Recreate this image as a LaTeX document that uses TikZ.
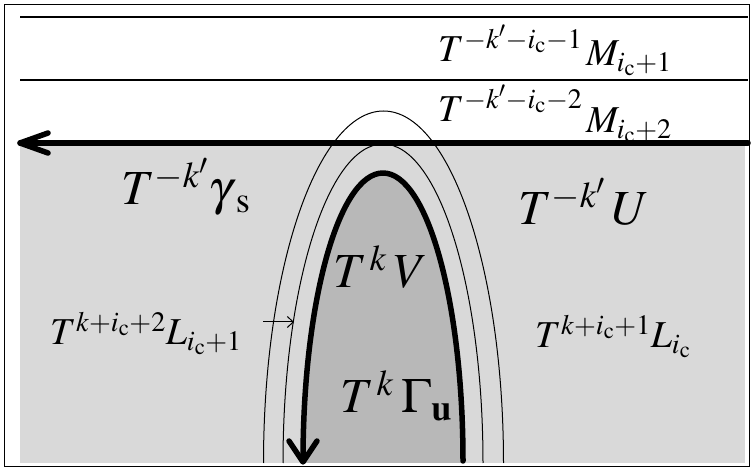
\documentclass[tikz,border=0pt]{standalone}
\usepackage{mathptmx}
\usetikzlibrary{arrows.meta}
\definecolor{lightshade}{gray}{0.85}
\definecolor{darkshade}{gray}{0.72}
\begin{document}
\begin{tikzpicture}[x=1pt,y=-1pt,
  thinline/.style={line width=1.2pt},
  thinarc/.style={line width=1pt},
  thickline/.style={line width=5.5pt, line cap=round, line join=round},
  midlab/.style={anchor=base west, inner sep=0pt, font=\fontsize{38}{42}\selectfont},
  biglab/.style={anchor=base west, inner sep=0pt, font=\fontsize{49}{53}\selectfont},
]
\useasboundingbox (0,0) rectangle (753,470);
\fill[white] (0,0) rectangle (753,470);
% shaded regions
\fill[lightshade] (20,146) rectangle (745,463);
\fill[darkshade] (463,463) arc[start angle=0, end angle=-180, x radius=80, y radius=290] -- cycle;
% frame
\draw[line width=0.8pt] (4,4) rectangle (749,466);
% horizontal lines
\coordinate (a1) at (20,17);  \coordinate (b1) at (748,17);
\coordinate (a2) at (20,80);  \coordinate (b2) at (748,80);
\draw[thinline] (a1) -- (b1);
\draw[thinline] (a2) -- (b2);
% thin arches
\draw[thinarc] (503.5,463) arc[start angle=0, end angle=-180, x radius=120, y radius=352];
\draw[thinarc] (483,463) arc[start angle=0, end angle=-180, x radius=100, y radius=319];
% thick arch with arrow
\draw[thickline] (463,461) arc[start angle=0, end angle=-180, x radius=80, y radius=288];
\coordinate (vt) at (303,462);
\coordinate (vl) at (289,441);
\coordinate (vr) at (317,441);
\draw[thickline] (vl) -- (vt) -- (vr);
% thick horizontal arrow
\coordinate (hr) at (748,143);
\coordinate (hl) at (20,143);
\coordinate (hu) at (48,133);
\coordinate (hd) at (48,153);
\draw[thickline] (hr) -- (hl);
\draw[thickline] (hu) -- (hl) -- (hd);
% small arrow
\coordinate (sa) at (263,322);
\coordinate (sb) at (294,322);
\draw[line width=1pt, -{Straight Barb[length=6pt,width=11pt]}] (sa) -- (sb);
% labels
\node[midlab] (m1t) at (438,62) {$T^{-k'-i_{\mathrm{c}}-1}$};
\node[midlab] (m1m) at (586,66) {$M_{i_{\mathrm{c}}+1}$};
\node[midlab] (m2t) at (438,122) {$T^{-k'-i_{\mathrm{c}}-2}$};
\node[midlab] (m2m) at (586,133) {$M_{i_{\mathrm{c}}+2}$};
\node[biglab] (gs) at (121,205) {$T^{-k'}\gamma_{\kern7pt\mathrm{s}}$};
\node[biglab] (tu) at (518,225) {$T^{-k'}\kern6pt U$};
\node[biglab] (tv) at (333,288) {$T^{\kern3pt k}\kern7pt V$};
\node[biglab] (tg) at (340,413) {$T^{\kern3pt k}\kern8pt\Gamma_{\mathbf{u}}$};
\node[midlab] (l1) at (50,345) {$T^{k+i_{\mathrm{c}}+2}L_{i_{\mathrm{c}}+1}$};
\node[midlab] (l0) at (535,348) {$T^{k+i_{\mathrm{c}}+1}L_{i_{\mathrm{c}}}$};
\end{tikzpicture}
\end{document}
